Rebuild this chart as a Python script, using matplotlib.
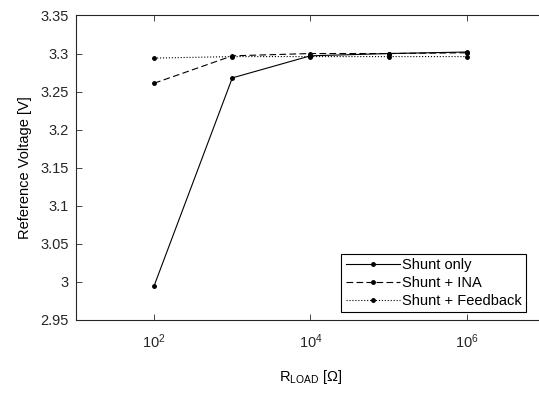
import matplotlib
matplotlib.use('Agg')
import matplotlib.pyplot as plt

plt.rcParams['font.family'] = ['Liberation Sans', 'DejaVu Sans']
plt.rcParams['mathtext.fontset'] = 'custom'
plt.rcParams['mathtext.rm'] = 'Liberation Sans'
plt.rcParams['mathtext.it'] = 'Liberation Sans:italic'
plt.rcParams['font.size'] = 10.5

r_load = [1e2, 1e3, 1e4, 1e5, 1e6]
shunt_only = [2.995, 3.268, 3.297, 3.300, 3.302]
shunt_ina = [3.261, 3.297, 3.300, 3.300, 3.301]
shunt_feedback = [3.294, 3.296, 3.296, 3.296, 3.296]

fig = plt.figure(figsize=(5.39, 4.03), dpi=100)
ax = fig.add_axes([0.141, 0.206, 0.870, 0.7556])

ax.plot(r_load, shunt_only, 'k-', marker='.', ms=5, lw=0.8, label='Shunt only')
ax.plot(r_load, shunt_ina, 'k--', marker='.', ms=5, lw=0.8, dashes=(6, 3), label='Shunt + INA')
ax.plot(r_load, shunt_feedback, 'k:', marker='.', ms=5, lw=0.8, label='Shunt + Feedback')

ax.set_xscale('log')
ax.set_xlim(1e1, 1e7)
ax.set_ylim(2.95, 3.35)
ax.set_xticks([1e2, 1e4, 1e6])
ax.minorticks_off()
ax.set_yticks([2.95, 3, 3.05, 3.1, 3.15, 3.2, 3.25, 3.3, 3.35])
ax.set_yticklabels(['2.95', '3', '3.05', '3.1', '3.15', '3.2', '3.25', '3.3', '3.35'])
ax.tick_params(direction='in', top=True, right=True, length=4, width=0.6, colors='#262626')
ax.tick_params(axis='x', pad=9)
ax.tick_params(axis='y', pad=5)
for s in ax.spines.values():
    s.set_linewidth(0.8)
    s.set_color('#262626')

ax.set_xlabel(r'R$_{\mathrm{LOAD}}$ [Ω]', labelpad=12)
ax.set_ylabel('Reference Voltage [V]', labelpad=6)

leg = ax.legend(loc='lower right', bbox_to_anchor=(0.9595, 0.026), fancybox=False,
                edgecolor='k', framealpha=1, borderpad=0.3, labelspacing=0.25,
                handlelength=3.7, handletextpad=0.15, borderaxespad=0)
leg.get_frame().set_linewidth(0.8)

fig.savefig('out.png', dpi=100)
